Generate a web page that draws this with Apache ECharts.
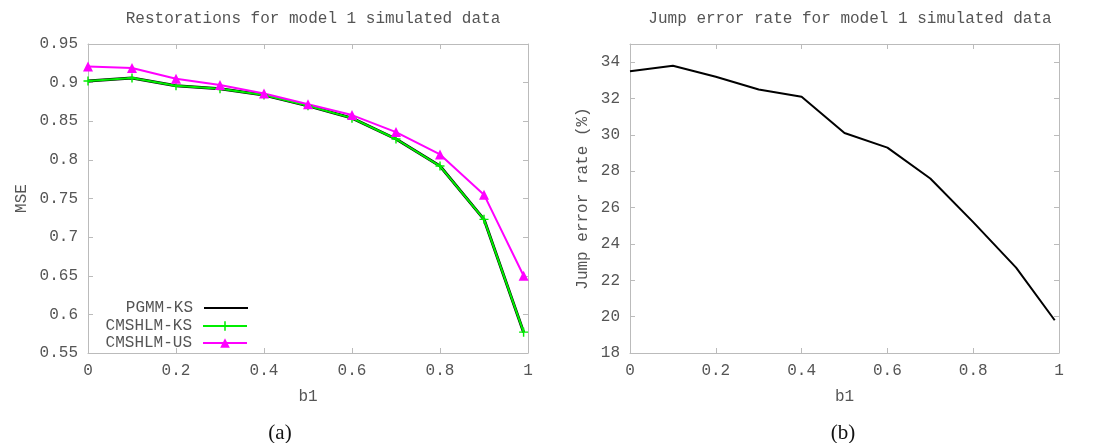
<!DOCTYPE html>
<html>
<head>
<meta charset="utf-8">
<script src="https://cdn.jsdelivr.net/npm/echarts@6/dist/echarts.min.js"></script>
<style>html,body{margin:0;padding:0;background:#fff}#c{width:1096px;height:443px}</style>
</head>
<body>
<div id="c"></div>
<script>
// ---- data ----
const b1Values = [0, 0.1, 0.2, 0.3, 0.4, 0.5, 0.6, 0.7, 0.8, 0.9, 0.99];
const pgmmKS   = [0.902, 0.906, 0.896, 0.892, 0.884, 0.870, 0.854, 0.827, 0.792, 0.723, 0.577];
const cmshlmKS = [0.902, 0.906, 0.896, 0.892, 0.884, 0.870, 0.854, 0.827, 0.792, 0.723, 0.577];
const cmshlmUS = [0.921, 0.919, 0.905, 0.897, 0.886, 0.872, 0.858, 0.836, 0.807, 0.755, 0.650];
const jumpErrorRate = [33.5, 33.8, 33.2, 32.5, 32.1, 30.1, 29.3, 27.6, 25.2, 22.7, 19.8];
const seriesNames = ['PGMM-KS', 'CMSHLM-KS', 'CMSHLM-US'];
const titles = ['Restorations for model 1 simulated data', 'Jump error rate for model 1 simulated data'];
const captions = ['(a)', '(b)'];

const pairs = (xs, ys) => xs.map((x, i) => [x, ys[i]]);
const MONO = '"Liberation Mono", "DejaVu Sans Mono", monospace';
const TXT = '#555';
const AX = '#bbb';
const plusPath = 'path://M4.2,0 L5.8,0 L5.8,4.2 L10,4.2 L10,5.8 L5.8,5.8 L5.8,10 L4.2,10 L4.2,5.8 L0,5.8 L0,4.2 L4.2,4.2 Z';

function xAx(grid, pos, show) {
  return {
    type: 'value', gridIndex: grid, position: pos, min: 0, max: 1, interval: 0.2,
    name: show ? 'b1' : '', nameLocation: 'middle', nameGap: 36,
    nameTextStyle: { fontFamily: MONO, fontSize: 16, color: TXT },
    axisLine: { show: true, onZero: false, lineStyle: { color: AX, width: 1 } },
    axisTick: { show: true, inside: true, length: 5, lineStyle: { color: AX } },
    axisLabel: { show: show, margin: 10, fontFamily: MONO, fontSize: 16, color: TXT },
    splitLine: { show: false }
  };
}
function yAx(grid, pos, show, min, max, interval, name, gap) {
  return {
    type: 'value', gridIndex: grid, position: pos, min: min, max: max, interval: interval,
    name: show ? name : '', nameLocation: 'middle', nameGap: gap,
    nameTextStyle: { fontFamily: MONO, fontSize: 16, color: TXT },
    axisLine: { show: true, onZero: false, lineStyle: { color: AX, width: 1 } },
    axisTick: { show: true, inside: true, length: 5, lineStyle: { color: AX } },
    axisLabel: { show: show, margin: 10, fontFamily: MONO, fontSize: 16, color: TXT, showMaxLabel: grid === 0 },
    splitLine: { show: false }
  };
}

const chart = echarts.init(document.getElementById('c'), null, { renderer: 'canvas' });
const legendBase = {
  orient: 'vertical', right: 848, padding: 0, itemWidth: 44, itemHeight: 12, align: 'right',
  textStyle: { fontFamily: MONO, fontSize: 16, color: TXT, padding: [0, 6, 0, 0] }
};
chart.setOption({
  animation: false,
  title: [
    { text: titles[0], left: 308, top: 6, textAlign: 'center', textStyle: { fontFamily: MONO, fontSize: 16, fontWeight: 'normal', color: TXT } },
    { text: titles[1], left: 845, top: 6, textAlign: 'center', textStyle: { fontFamily: MONO, fontSize: 16, fontWeight: 'normal', color: TXT } },
    { text: captions[0], left: 275, top: 418, textAlign: 'center', textStyle: { fontFamily: '"Liberation Serif", serif', fontSize: 21, fontWeight: 'normal', color: '#111' } },
    { text: captions[1], left: 838, top: 418, textAlign: 'center', textStyle: { fontFamily: '"Liberation Serif", serif', fontSize: 21, fontWeight: 'normal', color: '#111' } }
  ],
  legend: [
    Object.assign({}, legendBase, { top: 300, itemHeight: 2, data: [{ name: seriesNames[0], icon: 'rect' }] }),
    Object.assign({}, legendBase, { top: 318, data: [seriesNames[1]] }),
    Object.assign({}, legendBase, { top: 335, data: [seriesNames[2]] })
  ],
  grid: [
    { left: 88, top: 44, width: 440, height: 309 },
    { left: 630, top: 44, width: 429, height: 309 }
  ],
  xAxis: [xAx(0, 'bottom', true), xAx(0, 'top', false), xAx(1, 'bottom', true), xAx(1, 'top', false)],
  yAxis: [
    yAx(0, 'left', true, 0.55, 0.95, 0.05, 'MSE', 58),
    yAx(0, 'right', false, 0.55, 0.95, 0.05, '', 0),
    yAx(1, 'left', true, 18, 35, 2, 'Jump error rate (%)', 39),
    yAx(1, 'right', false, 18, 35, 2, '', 0)
  ],
  series: [
    { name: seriesNames[0], type: 'line', xAxisIndex: 0, yAxisIndex: 0, data: pairs(b1Values, pgmmKS),
      symbol: 'none', lineStyle: { color: '#000', width: 3 }, itemStyle: { color: '#000' } },
    { name: seriesNames[1], type: 'line', xAxisIndex: 0, yAxisIndex: 0, data: pairs(b1Values, cmshlmKS),
      symbol: plusPath, symbolSize: 9, lineStyle: { color: '#00ee00', width: 2 }, itemStyle: { color: '#00ee00' } },
    { name: seriesNames[2], type: 'line', xAxisIndex: 0, yAxisIndex: 0, data: pairs(b1Values, cmshlmUS),
      symbol: 'triangle', symbolSize: 10, lineStyle: { color: '#ff00ff', width: 2 }, itemStyle: { color: '#ff00ff' } },
    { name: 'Jump error rate', type: 'line', xAxisIndex: 2, yAxisIndex: 2, data: pairs(b1Values, jumpErrorRate),
      symbol: 'none', lineStyle: { color: '#000', width: 2 }, itemStyle: { color: '#000' } }
  ]
});
</script>
</body>
</html>
